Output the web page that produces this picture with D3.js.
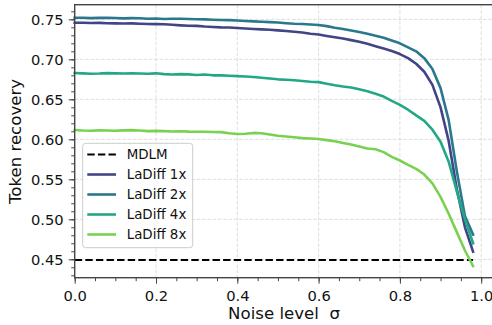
<!DOCTYPE html>
<html><head><meta charset="utf-8">
<script src="https://cdn.jsdelivr.net/npm/d3@7"></script>
<style>body{margin:0;background:#fff}svg{display:block;font-family:"DejaVu Sans",sans-serif}</style>
</head><body><svg id="c" width="492" height="325"></svg>
<script>
const sigma = [0,0.02,0.04,0.06,0.08,0.10,0.12,0.14,0.16,0.18,0.20,0.22,0.24,0.26,0.28,0.30,0.32,0.34,0.36,0.38,0.40,0.42,0.44,0.46,0.48,0.50,0.52,0.54,0.56,0.58,0.60,0.62,0.64,0.66,0.68,0.70,0.72,0.74,0.76,0.78,0.80,0.82,0.84,0.86,0.88,0.90,0.92,0.94,0.96,0.98];
const ladiff1x = [0.7458,0.7457,0.7455,0.7456,0.7452,0.7450,0.7448,0.7450,0.7445,0.7442,0.7440,0.7438,0.7432,0.7425,0.7420,0.7418,0.7410,0.7405,0.7400,0.7398,0.7392,0.7385,0.7380,0.7375,0.7370,0.7362,0.7355,0.7345,0.7335,0.7320,0.7310,0.7292,0.7275,0.7260,0.7240,0.7220,0.7195,0.7165,0.7135,0.7105,0.7066,0.7015,0.6945,0.6845,0.6680,0.6400,0.5980,0.5380,0.4900,0.4595];
const ladiff2x = [0.7520,0.7520,0.7515,0.7518,0.7520,0.7517,0.7512,0.7515,0.7513,0.7508,0.7510,0.7505,0.7508,0.7507,0.7505,0.7502,0.7500,0.7495,0.7492,0.7490,0.7485,0.7480,0.7475,0.7470,0.7465,0.7460,0.7452,0.7445,0.7442,0.7435,0.7430,0.7415,0.7395,0.7380,0.7360,0.7342,0.7320,0.7295,0.7270,0.7235,0.7200,0.7150,0.7100,0.7015,0.6880,0.6640,0.6240,0.5600,0.5040,0.4810];
const ladiff4x = [0.6830,0.6825,0.6820,0.6822,0.6828,0.6825,0.6823,0.6825,0.6822,0.6820,0.6825,0.6815,0.6810,0.6815,0.6812,0.6805,0.6810,0.6800,0.6800,0.6795,0.6790,0.6785,0.6780,0.6770,0.6760,0.6750,0.6745,0.6738,0.6730,0.6720,0.6715,0.6695,0.6675,0.6660,0.6648,0.6625,0.6600,0.6570,0.6535,0.6480,0.6430,0.6370,0.6300,0.6230,0.6120,0.5970,0.5720,0.5350,0.5000,0.4700];
const ladiff8x = [0.6115,0.6110,0.6108,0.6112,0.6110,0.6108,0.6112,0.6115,0.6110,0.6102,0.6105,0.6102,0.6098,0.6100,0.6096,0.6095,0.6095,0.6092,0.6090,0.6075,0.6066,0.6070,0.6080,0.6075,0.6060,0.6045,0.6035,0.6025,0.6015,0.6010,0.6004,0.5990,0.5975,0.5955,0.5935,0.5910,0.5885,0.5875,0.5840,0.5780,0.5735,0.5680,0.5630,0.5560,0.5450,0.5280,0.5070,0.4840,0.4610,0.4415];
const mdlm = 0.449;
const seriesNames = ["LaDiff 1x","LaDiff 2x","LaDiff 4x","LaDiff 8x"];
const seriesColors = ["#414487","#2a788e","#22a884","#7ad151"];
const xTicks = [0,0.2,0.4,0.6,0.8,1.0];
const yTicks = [0.45,0.50,0.55,0.60,0.65,0.70,0.75];
const xLabel = "Noise level  σ";
const yLabel = "Token recovery";

const svg = d3.select("#c");
const L = 74.7, T = 4.7, B = 277.7;
const x = d3.scaleLinear().domain([0, 1.03]).range([L, L + 1.03*406.5]);
const y = d3.scaleLinear().domain([0.427, 0.7683]).range([B, T]);
const R = x.range()[1];

// grid
const g = svg.append("g");
g.selectAll(".gx").data(xTicks.filter(d=>d>0)).join("line")
  .attr("x1",d=>x(d)).attr("x2",d=>x(d)).attr("y1",T).attr("y2",B)
  .attr("stroke","#dedede").attr("stroke-width",1).attr("stroke-dasharray","3.7,1.6");
g.selectAll(".gy").data(yTicks).join("line")
  .attr("y1",d=>y(d)).attr("y2",d=>y(d)).attr("x1",L).attr("x2",R)
  .attr("stroke","#dedede").attr("stroke-width",1).attr("stroke-dasharray","3.7,1.6");

// MDLM
svg.append("line").attr("x1",x(0)).attr("x2",x(0.98)).attr("y1",y(mdlm)).attr("y2",y(mdlm))
  .attr("stroke","#000").attr("stroke-width",2).attr("stroke-dasharray","7.4,3.2");

const allSeries = [ladiff1x, ladiff2x, ladiff4x, ladiff8x];
const line = d3.line().x((d,i)=>x(sigma[i])).y(d=>y(d));
allSeries.forEach((s,k)=>{
  svg.append("path").datum(s).attr("d",line).attr("fill","none")
    .attr("stroke",seriesColors[k]).attr("stroke-width",2.6)
    .attr("stroke-linejoin","round").attr("stroke-linecap","square");
});

// axes
const xMinor = d3.range(0, 1.031, 0.05);
const yMinor = d3.range(0.43, 0.7681, 0.01);
const xa = svg.append("g").attr("transform",`translate(0,${B})`)
  .call(d3.axisBottom(x).tickValues(xMinor).tickSize(3.5).tickFormat(""));
const xb = svg.append("g").attr("transform",`translate(0,${B})`)
  .call(d3.axisBottom(x).tickValues(xTicks).tickSize(6).tickPadding(6).tickFormat(d3.format(".1f")));
const ya = svg.append("g").attr("transform",`translate(${L},0)`)
  .call(d3.axisLeft(y).tickValues(yMinor).tickSize(3.5).tickFormat(""));
const yb = svg.append("g").attr("transform",`translate(${L},0)`)
  .call(d3.axisLeft(y).tickValues(yTicks).tickSize(6).tickPadding(5).tickFormat(d3.format(".2f")));
[xa,xb,ya,yb].forEach(a=>{
  a.select(".domain").remove();
  a.selectAll("line").attr("stroke","#444").attr("stroke-width",1);
  a.selectAll("text").attr("fill","#111").style("font-size","14.7px").style("font-family","DejaVu Sans");
});
xb.selectAll("text").attr("dy",null).attr("y",null).attr("transform",null)
  .attr("y",23.3);
// frame
svg.append("rect").attr("x",L).attr("y",T).attr("width",R-L).attr("height",B-T)
  .attr("fill","none").attr("stroke","#444").attr("stroke-width",1.4);

// labels
svg.append("text").attr("x",284).attr("y",319.3).attr("text-anchor","middle")
  .style("font-size","16.6px").style("white-space","pre").attr("xml:space","preserve")
  .attr("fill","#111").text(xLabel);
svg.append("text").attr("transform","translate(20.8,141.5) rotate(-90)").attr("text-anchor","middle")
  .style("font-size","16.6px").attr("fill","#111").text(yLabel);

// legend
const lg = svg.append("g");
lg.append("rect").attr("x",82.7).attr("y",143.3).attr("width",110).attr("height",104.4)
  .attr("rx",3).attr("fill","#fff").attr("fill-opacity",0.8).attr("stroke","#cccccc").attr("stroke-width",1);
const items = [{name:"MDLM",color:"#000",dash:"7.4,3.2",w:2}].concat(
  seriesNames.map((n,i)=>({name:n,color:seriesColors[i],dash:null,w:2.6})));
items.forEach((it,i)=>{
  const cy = 154.5 + i*20;
  lg.append("line").attr("x1",87.3).attr("x2",116).attr("y1",cy).attr("y2",cy)
    .attr("stroke",it.color).attr("stroke-width",it.w).attr("stroke-dasharray",it.dash);
  lg.append("text").attr("x",126.7).attr("y",cy+4.9).style("font-size","13.4px")
    .attr("fill","#111").text(it.name);
});
</script></body></html>
